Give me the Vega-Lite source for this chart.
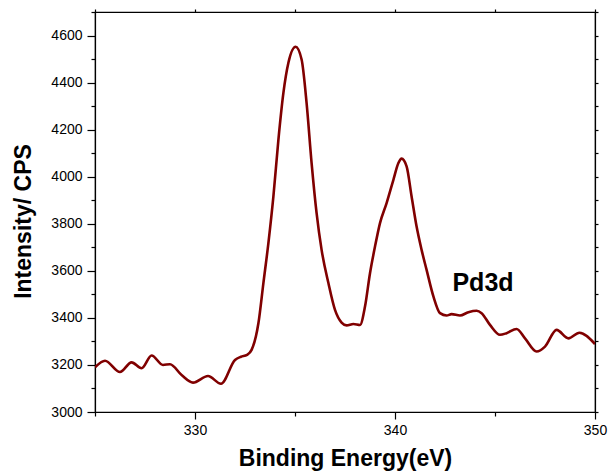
{
  "$schema": "https://vega.github.io/schema/vega-lite/v6.json",
  "width": 500,
  "height": 400,
  "autosize": {"type": "none"},
  "padding": {"left": 95, "top": 12, "right": 13, "bottom": 63},
  "background": "white",
  "config": {
    "view": {"stroke": "black", "strokeWidth": 1.2},
    "font": "Liberation Sans",
    "axis": {"grid": false, "domainColor": "black", "domainWidth": 1.2, "tickColor": "black", "tickWidth": 1.2, "labelColor": "black", "titleColor": "black", "labelFont": "Liberation Sans", "titleFont": "Liberation Sans"}
  },
  "datasets": {
    "xps": [
      {"be": 325.0, "cps": 3190},
      {"be": 325.5, "cps": 3218},
      {"be": 326.25, "cps": 3170},
      {"be": 326.83, "cps": 3211},
      {"be": 327.33, "cps": 3186},
      {"be": 327.83, "cps": 3240},
      {"be": 328.4, "cps": 3200},
      {"be": 328.75, "cps": 3203},
      {"be": 329.33, "cps": 3157},
      {"be": 329.9, "cps": 3125},
      {"be": 330.65, "cps": 3153},
      {"be": 331.3, "cps": 3120},
      {"be": 332.0, "cps": 3221},
      {"be": 332.3, "cps": 3235},
      {"be": 332.6, "cps": 3243},
      {"be": 332.83, "cps": 3264},
      {"be": 333.17, "cps": 3377},
      {"be": 333.42, "cps": 3548},
      {"be": 333.67, "cps": 3718},
      {"be": 333.92, "cps": 3916},
      {"be": 334.17, "cps": 4157},
      {"be": 334.42, "cps": 4356},
      {"be": 334.67, "cps": 4484},
      {"be": 335.03, "cps": 4552},
      {"be": 335.33, "cps": 4498},
      {"be": 335.58, "cps": 4313},
      {"be": 335.83, "cps": 4058},
      {"be": 336.08, "cps": 3845},
      {"be": 336.33, "cps": 3689},
      {"be": 336.67, "cps": 3548},
      {"be": 337.0, "cps": 3434},
      {"be": 337.33, "cps": 3380},
      {"be": 337.58, "cps": 3368},
      {"be": 337.92, "cps": 3374},
      {"be": 338.25, "cps": 3370},
      {"be": 338.5, "cps": 3448},
      {"be": 338.75, "cps": 3590},
      {"be": 339.0, "cps": 3703},
      {"be": 339.25, "cps": 3803},
      {"be": 339.58, "cps": 3888},
      {"be": 339.92, "cps": 3987},
      {"be": 340.17, "cps": 4058},
      {"be": 340.33, "cps": 4077},
      {"be": 340.58, "cps": 4044},
      {"be": 340.83, "cps": 3916},
      {"be": 341.08, "cps": 3788},
      {"be": 341.33, "cps": 3689},
      {"be": 341.58, "cps": 3604},
      {"be": 341.92, "cps": 3491},
      {"be": 342.25, "cps": 3420},
      {"be": 342.58, "cps": 3410},
      {"be": 342.83, "cps": 3416},
      {"be": 343.25, "cps": 3410},
      {"be": 343.67, "cps": 3424},
      {"be": 344.08, "cps": 3430},
      {"be": 344.33, "cps": 3420},
      {"be": 344.75, "cps": 3370},
      {"be": 345.25, "cps": 3328},
      {"be": 345.58, "cps": 3335},
      {"be": 346.08, "cps": 3353},
      {"be": 346.5, "cps": 3313},
      {"be": 347.08, "cps": 3257},
      {"be": 347.5, "cps": 3278},
      {"be": 348.08, "cps": 3349},
      {"be": 348.67, "cps": 3313},
      {"be": 349.22, "cps": 3337},
      {"be": 350.0, "cps": 3289}
    ],
    "notes": [{"be": 344.4, "cps": 3550, "label": "Pd3d"}]
  },
  "layer": [
    {
      "data": {"name": "xps"},
      "mark": {"type": "line", "interpolate": "monotone", "color": "#800000", "strokeWidth": 2.6, "clip": true},
      "encoding": {
        "x": {"field": "be", "type": "quantitative", "scale": {"domain": [325, 350], "nice": false, "zero": false},
          "axis": {"orient": "bottom", "title": "Binding Energy(eV)", "values": [325, 330, 335, 340, 345, 350],
            "labelExpr": "datum.value % 10 === 0 ? datum.label : ''",
            "tickSize": {"condition": {"test": "datum.value % 10 === 0", "value": 7}, "value": 4},
            "labelPadding": 4, "labelFontSize": 14, "labelFlush": false,
            "titleFontSize": 23, "titleFontWeight": "bold", "titlePadding": 10}},
        "y": {"field": "cps", "type": "quantitative", "scale": {"domain": [3000, 4700], "nice": false, "zero": false},
          "axis": {"orient": "left", "title": "Intensity/ CPS",
            "values": [3000, 3100, 3200, 3300, 3400, 3500, 3600, 3700, 3800, 3900, 4000, 4100, 4200, 4300, 4400, 4500, 4600, 4700],
            "labelExpr": "datum.value % 200 === 0 && datum.value < 4700 ? datum.label : ''",
            "format": "d",
            "tickSize": {"condition": {"test": "datum.value % 200 === 0", "value": 8}, "value": 4},
            "labelPadding": 5, "labelFontSize": 14, "labelFlush": false,
            "titleFontSize": 23, "titleFontWeight": "bold", "titlePadding": 15, "titleY": 209}}
      }
    },
    {
      "data": {"name": "notes"},
      "mark": {"type": "text", "font": "Liberation Sans", "fontSize": 25, "fontWeight": "bold", "color": "black", "align": "center", "baseline": "middle"},
      "encoding": {
        "x": {"field": "be", "type": "quantitative", "scale": {"domain": [325, 350], "nice": false, "zero": false},
          "axis": {"orient": "top", "title": null, "values": [325, 330, 335, 340, 345, 350], "labels": false, "tickSize": 3}},
        "y": {"field": "cps", "type": "quantitative", "scale": {"domain": [3000, 4700], "nice": false, "zero": false},
          "axis": {"orient": "right", "title": null,
            "values": [3000, 3100, 3200, 3300, 3400, 3500, 3600, 3700, 3800, 3900, 4000, 4100, 4200, 4300, 4400, 4500, 4600, 4700],
            "labels": false, "tickSize": 3}},
        "text": {"field": "label"}
      }
    }
  ],
  "resolve": {"axis": {"x": "independent", "y": "independent"}}
}
